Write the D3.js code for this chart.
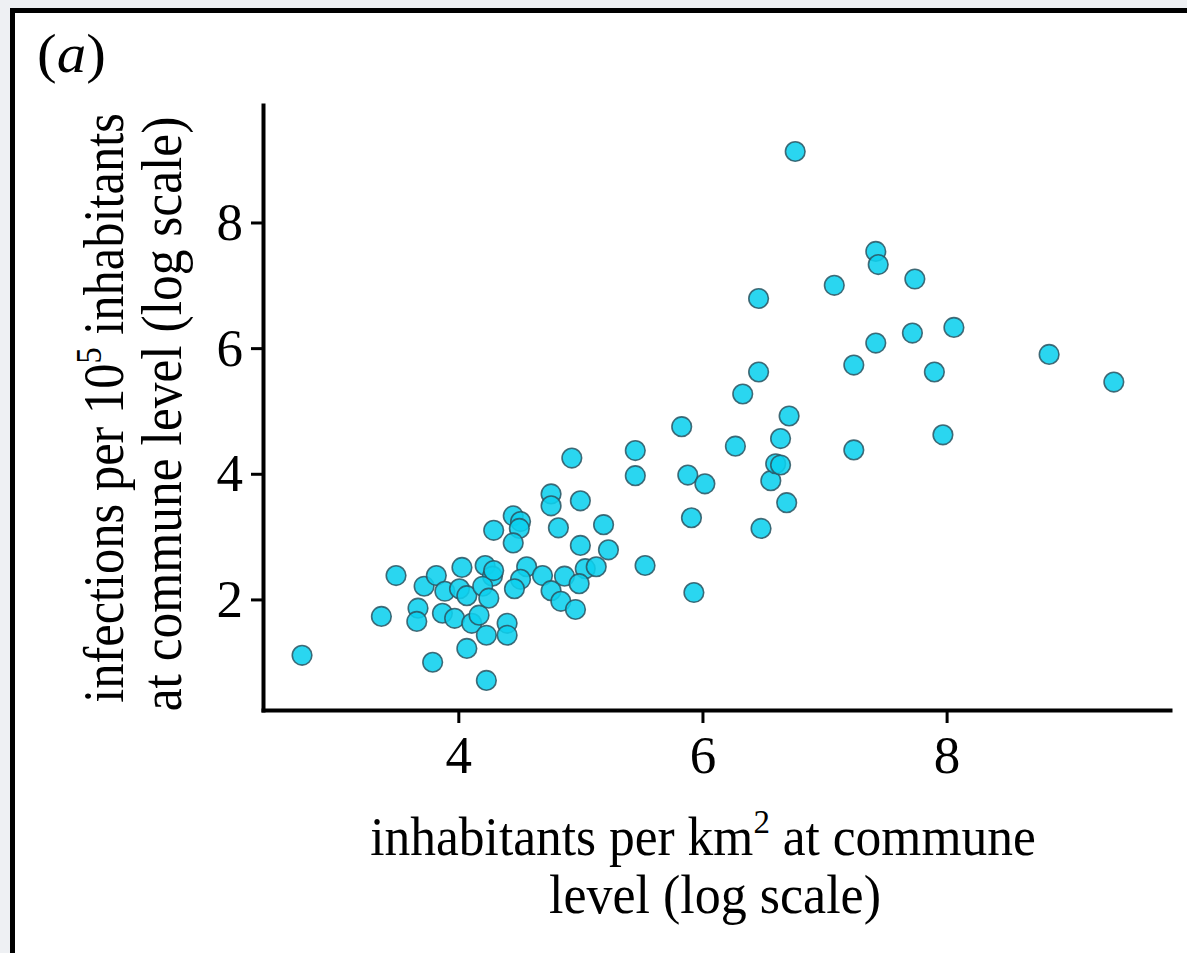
<!DOCTYPE html>
<html>
<head>
<meta charset="utf-8">
<script src="https://cdn.jsdelivr.net/npm/d3@7/dist/d3.min.js"></script>
<style>
  html, body { margin: 0; padding: 0; background: #eef0f3; }
  svg { display: block; }
  text { font-family: "Liberation Serif", "Times New Roman", serif; fill: #000; }
</style>
</head>
<body>
<svg id="chart" width="1187" height="953"></svg>
<script>
// Density (log scale) per commune
const densityX = [
  2.72, 3.37, 3.49, 3.67, 3.66, 3.72, 3.82, 3.89, 4.03, 4.01,
  4.07, 3.87, 3.97, 3.79, 4.07, 4.11, 4.17, 4.22, 4.28, 4.20,
  4.25, 4.23, 4.23, 4.29, 4.45, 4.51, 4.50, 4.45, 4.29, 4.56,
  4.51, 4.46, 4.40, 4.40, 4.69, 4.76, 4.87, 4.84, 4.96, 5.04,
  5.13, 4.99, 4.76, 4.76, 4.82, 4.93, 5.00, 5.00, 5.19, 5.23,
  5.45, 5.45, 5.53, 5.83, 5.88, 6.02, 5.91, 5.93, 6.27, 6.33,
  6.46, 6.48, 6.56, 6.60, 6.64, 6.64, 6.69, 6.71, 6.46, 6.76,
  7.08, 7.42, 7.44, 7.74, 7.24, 7.42, 7.72, 8.06, 7.90, 7.24,
  7.97, 8.84, 9.37
];
// Infections per 1e5 inhabitants (log scale) per commune
const infectionsY = [
  1.11, 1.73, 2.38, 1.86, 1.65, 2.21, 2.38, 2.13, 2.51, 2.17,
  2.06, 1.78, 1.70, 1.00, 1.22, 1.62, 1.75, 2.54, 2.37, 2.21,
  2.02, 1.43, 0.71, 3.10, 3.33, 3.24, 3.13, 2.90, 2.46, 2.52,
  2.32, 2.17, 1.62, 1.43, 2.38, 2.14, 2.37, 1.97, 1.84, 2.49,
  2.52, 2.25, 3.68, 3.49, 3.14, 4.25, 3.57, 2.86, 3.19, 2.79,
  4.37, 3.97, 2.54, 4.75, 3.98, 3.84, 3.30, 2.11, 4.44, 5.27,
  5.62, 3.13, 3.89, 4.16, 4.14, 4.56, 3.54, 4.92, 6.79, 9.13,
  7.00, 7.54, 7.33, 7.10, 5.73, 6.08, 6.24, 6.33, 5.62, 4.38,
  4.62, 5.90, 5.46
];
const xTicks = [4, 6, 8];
const yTicks = [2, 4, 6, 8];

const points = densityX.map((d, i) => ({ x: d, y: infectionsY[i] }));

const svg = d3.select("#chart");

// panel frame
svg.append("rect")
  .attr("x", 12.5).attr("y", 10.5)
  .attr("width", 1400).attr("height", 1200)
  .attr("fill", "#fff").attr("stroke", "#000").attr("stroke-width", 5);

const x = d3.scaleLinear().domain([2.4, 9.83]).range([263, 1170]);
const y = d3.scaleLinear().domain([0.24, 9.87]).range([710, 105]);

// points
svg.append("g").selectAll("circle")
  .data(points)
  .join("circle")
  .attr("cx", d => x(d.x))
  .attr("cy", d => y(d.y))
  .attr("r", 9.8)
  .attr("fill", "#0cd0ee")
  .attr("fill-opacity", 0.88)
  .attr("stroke", "#2c5460")
  .attr("stroke-opacity", 0.85)
  .attr("stroke-width", 1.6);

// axes
const xAxis = svg.append("g")
  .attr("transform", `translate(0,${y.range()[0]})`)
  .call(d3.axisBottom(x).tickValues(xTicks).tickFormat(d3.format("d"))
    .tickSizeOuter(0).tickSizeInner(13).tickPadding(12));
const yAxis = svg.append("g")
  .attr("transform", `translate(${x.range()[0]},0)`)
  .call(d3.axisLeft(y).tickValues(yTicks).tickFormat(d3.format("d"))
    .tickSizeOuter(0).tickSizeInner(12).tickPadding(8));

[xAxis, yAxis].forEach(g => {
  g.select(".domain").attr("stroke", "#000").attr("stroke-width", 4).attr("stroke-linecap", "square");
  g.selectAll(".tick line").attr("stroke", "#000").attr("stroke-width", 3);
  g.selectAll(".tick text")
    .attr("fill", "#000")
    .style("font-family", '"Liberation Serif", "Times New Roman", serif')
    .style("font-size", "53px");
});

// helper: a text line placed by a transform (glyphs slightly condensed like the reference)
function line(transform) {
  return svg.append("text")
    .attr("text-anchor", "middle")
    .attr("transform", transform)
    .style("font-size", "50px");
}

// x axis title
const xl1 = line("translate(703,855) scale(1.03,1.08)");
xl1.append("tspan").text("inhabitants per km");
xl1.append("tspan").attr("dy", -20).style("font-size", "32px").text("2");
xl1.append("tspan").attr("dy", 20).text(" at commune");
line("translate(715,913) scale(1.04,1.08)").text("level (log scale)");

// y axis title
const yl1 = line("translate(123,408) rotate(-90) scale(1.01,1.12)");
yl1.append("tspan").text("infections per 10");
yl1.append("tspan").attr("dy", -20).style("font-size", "32px").text("5");
yl1.append("tspan").attr("dy", 20).text(" inhabitants");
line("translate(181,414) rotate(-90) scale(1.03,1.12)").text("at commune level (log scale)");

// panel label
const pl = svg.append("text")
  .attr("transform", "translate(37,72) scale(1.18,1.1)")
  .style("font-size", "50px");
pl.append("tspan").text("(");
pl.append("tspan").style("font-style", "italic").text("a");
pl.append("tspan").text(")");
</script>
</body>
</html>
